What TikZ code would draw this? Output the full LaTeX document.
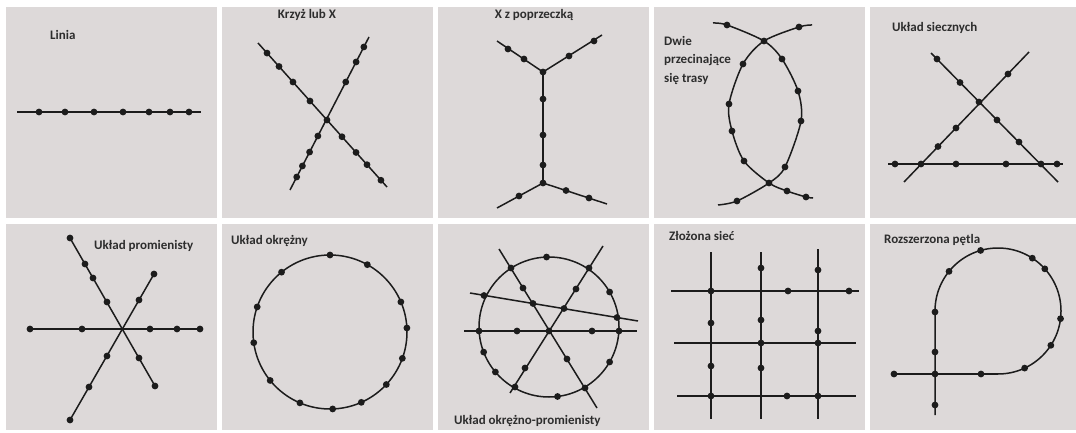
\documentclass[tikz,border=0pt]{standalone}
\usepackage{fontspec}
\setmainfont{Carlito}
\usetikzlibrary{calc}
\definecolor{panelgray}{RGB}{221,217,217}
\definecolor{ink}{RGB}{28,28,28}
\definecolor{lblgray}{RGB}{45,45,45}

\begin{document}
\begin{tikzpicture}[
  x=1pt, y=-1pt,
  route/.style={ink, line width=1.5pt},
  stop/.style={fill=ink},
  lbl/.style={font=\bfseries\fontsize{13}{18.5}\selectfont, text=lblgray, inner sep=0pt, anchor=west},
]

% Background and panels
\useasboundingbox (0,0) rectangle (1076,433);
\fill[white] (0,0) rectangle (1076,433);
\foreach \c in {0,...,3}{
  \fill[panelgray] ({6+216*\c},7) rectangle ({217+216*\c},218);
  \fill[panelgray] ({6+216*\c},224) rectangle ({217+216*\c},430);
}
\fill[panelgray] (870,7) rectangle (1076,218);
\fill[panelgray] (870,224) rectangle (1076,430);

% ===== Row 1 =====
% Linia
\node[lbl] (linia) at (50,35) {Linia};
\draw[route] (17,112) -- (201,112);
\foreach \x in {39,65,94,123,149,170,189}
  \fill[stop] (\x,112) circle (3.4pt);

% Krzyz lub X
\node[lbl, anchor=center] (krzyz) at (307,15) {Krzyż lub X};
\coordinate (xa1) at (258,43);
\coordinate (xa2) at (387,187);
\coordinate (xb1) at (290,190);
\coordinate (xb2) at (369,37);
\draw[route] (xa1) -- (xa2);
\draw[route] (xb1) -- (xb2);
\foreach \t in {0.07,0.163,0.271,0.403,0.535,0.651,0.76,0.845,0.953}
  \fill[stop] ($(xa1)!\t!(xa2)$) circle (3.4pt);
\foreach \t in {0.085,0.157,0.248,0.353,0.706,0.837,0.935}
  \fill[stop] ($(xb1)!\t!(xb2)$) circle (3.4pt);

% X z poprzeczka
\node[lbl, anchor=center] (poprzeczka) at (534,15) {X z poprzeczką};
\coordinate (jtop) at (543,72);
\coordinate (jbot) at (543,183);
\draw[route] (497,41) -- (jtop) -- (602,35);
\draw[route] (jtop) -- (jbot);
\draw[route] (497,208) -- (jbot) -- (607,204);
\foreach \p in {(508,49),(524,59),(569,56),(594,41),(543,72),(543,99),(543,135),
                (543,165),(543,183),(519,196),(566,190.5),(589,198)}
  \fill[stop] \p circle (3.4pt);

% Dwie przecinajace sie trasy
\node[lbl, anchor=north west, align=left] (dwie) at (664,36) {Dwie\\przecinające\\się trasy};
\draw[route] plot[smooth] coordinates {(713,23) (727,25) (764,41) (782,59) (798,91)
  (801,121) (785,167) (769,183) (737,201) (718,205)};
\draw[route] plot[smooth] coordinates {(812,25) (799,27) (764,41) (743,64) (729,104)
  (732,131) (744,161) (769,183) (787,191) (806,197) (813,198)};
\foreach \p in {(727,25),(764,41),(782,59),(798,91),(801,121),(785,167),(769,183),(737,201),
                (799,27),(743,64),(729,104),(732,131),(744,161),(787,191),(806,197)}
  \fill[stop] \p circle (3.4pt);

% Uklad siecznych
\node[lbl] (sieczne) at (892,28) {Układ siecznych};
\draw[route] (888,164) -- (1063,164);
\draw[route] (931,53) -- (1058,182);
\draw[route] (904,182) -- (1029,52);
\foreach \p in {(895,164),(921,164),(956,164),(1006,164),(1041,164),(1057,164),
                (937,59),(960,82.5),(979,102),(997,120),(1019,142),
                (938,146.5),(956,128),(1008,74)}
  \fill[stop] \p circle (3.4pt);

% ===== Row 2 =====
% Uklad promienisty
\node[lbl] (promienisty) at (94,246) {Układ promienisty};
\draw[route] (30,329) -- (200,329);
\draw[route] (70,238) -- (155,386);
\draw[route] (154,274) -- (70,420);
\foreach \p in {(30,329),(82,329),(150,329),(177,329),(200,329),
                (70,238),(85,264),(93,278),(107,302),(139,358),(155,386),
                (154,274),(139,300),(107,356),(89,387),(70,420)}
  \fill[stop] \p circle (3.4pt);

% Uklad okrezny
\node[lbl] (okrezny) at (231,241) {Układ okrężny};
\draw[route] (330,332) circle (77pt);
\foreach \a in {90,61,23,3,-20,-43,-66,-88,-113,-141,188,161,129}
  \fill[stop] ({330+77*cos(\a)},{332-77*sin(\a)}) circle (3.4pt);

% Uklad okrezno-promienisty
\node[lbl] (okreznoprom) at (454,421) {Układ okrężno-promienisty};
\draw[route] (549,327) circle (70pt);
\draw[route] (464,331) -- (637,331);
\draw[route] (499,249) -- (597,408);
\draw[route] (510,393) -- (603,246);
\draw[route] (470,293) -- (638,321);
\foreach \a in {92,30,-30,-83,-140,-159}
  \fill[stop] ({549+70*cos(\a)},{327-70*sin(\a)}) circle (3.4pt);
\foreach \p in {(479,331),(517,331),(549,331),(592,331),(619,331),
                (511,268),(523,288),(533,303.5),(567,359),(585,388),
                (515,387),(525,368),(564,308.5),(576,289),(589,268),
                (484,295.5),(617,317.5)}
  \fill[stop] \p circle (3.4pt);

% Zlozona siec
\node[lbl] (siec) at (669,236) {Złożona sieć};
\foreach \x/\y in {711/252,761/252,818/249}
  \draw[route] (\x,\y) -- (\x,419);
\draw[route] (671,291) -- (859,291);
\draw[route] (674,343) -- (856,343);
\draw[route] (677,396) -- (856,396);
\foreach \p in {(711,291),(788,291),(849,291),(761,268),(818,270),
                (711,323),(761,320),(818,331),(761,343),(818,343),
                (711,366),(761,368),(711,396),(787,396),(818,396)}
  \fill[stop] \p circle (3.4pt);

% Rozszerzona petla
\node[lbl] (petla) at (884,240) {Rozszerzona pętla};
\draw[route] (894,374) -- (998,374);
\draw[route] (935,415) -- (935,311) arc[start angle=180, end angle=-90, radius=63pt];
\foreach \a in {141,106,57,42,-7,-33,-65}
  \fill[stop] ({998+63*cos(\a)},{311-63*sin(\a)}) circle (3.4pt);
\foreach \p in {(894,374),(935,374),(981,374),(935,312),(935,352),(935,405)}
  \fill[stop] \p circle (3.4pt);

\end{tikzpicture}
\end{document}
